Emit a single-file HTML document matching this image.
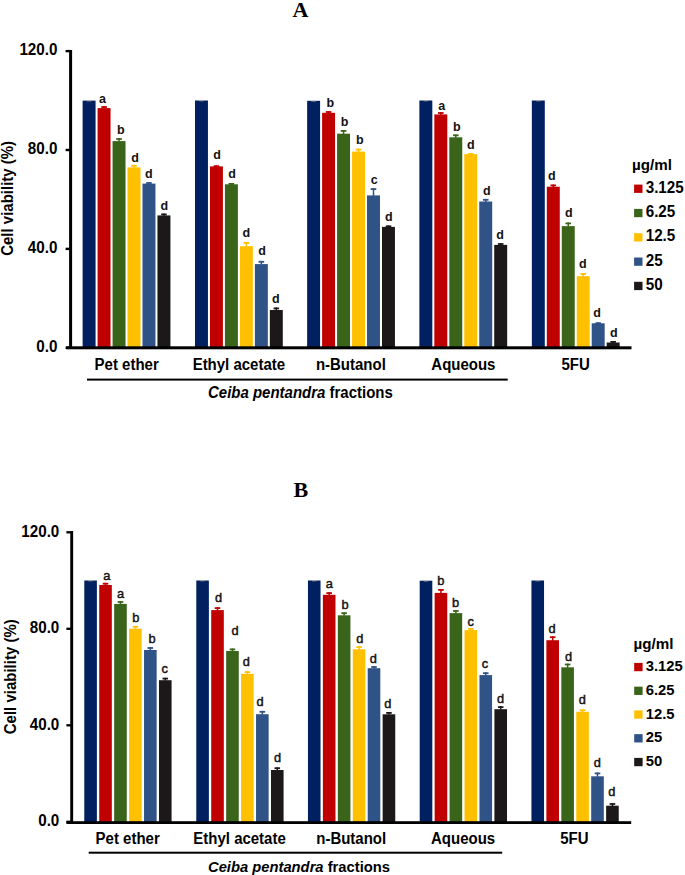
<!DOCTYPE html>
<html><head><meta charset="utf-8"><title>Cell viability charts</title>
<style>
html,body{margin:0;padding:0;background:#fff;}
body{width:685px;height:875px;overflow:hidden;font-family:"Liberation Sans", sans-serif;}
svg{display:block;}
</style></head>
<body>
<svg width="685" height="875" viewBox="0 0 685 875">
<rect width="685" height="875" fill="#fff"/>
<text x="292.5" y="16.6" font-family='"Liberation Serif", serif' font-weight="bold" font-size="22.0">A</text>
<rect x="82.62" y="100.6" width="12.95" height="247.2" fill="#002060"/>
<rect x="86.8" y="100.5" width="4.6" height="0.9" fill="#c2b598" opacity="0.75"/>
<rect x="97.59" y="108.1" width="12.95" height="239.7" fill="#C00000"/>
<rect x="103.31" y="106.1" width="1.5" height="2.5" fill="#C00000"/>
<rect x="101.27" y="106.1" width="5.6" height="1.8" fill="#C00000"/>
<rect x="112.56" y="141.1" width="12.95" height="206.7" fill="#3A641A"/>
<rect x="118.28" y="138.1" width="1.5" height="3.5" fill="#3A641A"/>
<rect x="116.23" y="138.1" width="5.6" height="1.8" fill="#3A641A"/>
<rect x="127.53" y="167.4" width="12.95" height="180.4" fill="#FFC000"/>
<rect x="133.25" y="164.9" width="1.5" height="3" fill="#FFC000"/>
<rect x="131.2" y="164.9" width="5.6" height="1.8" fill="#FFC000"/>
<rect x="142.5" y="183.6" width="12.95" height="164.2" fill="#2F5287"/>
<rect x="148.22" y="182.1" width="1.5" height="2" fill="#2F5287"/>
<rect x="146.17" y="182.1" width="5.6" height="1.8" fill="#2F5287"/>
<rect x="157.47" y="215.4" width="12.95" height="132.4" fill="#1C1819"/>
<rect x="163.2" y="213.5" width="1.5" height="2.4" fill="#1C1819"/>
<rect x="161.15" y="213.5" width="5.6" height="1.8" fill="#1C1819"/>
<rect x="194.99" y="100.5" width="12.95" height="247.3" fill="#002060"/>
<rect x="199.16" y="100.4" width="4.6" height="0.9" fill="#c2b598" opacity="0.75"/>
<rect x="209.96" y="166.4" width="12.95" height="181.4" fill="#C00000"/>
<rect x="215.69" y="165.3" width="1.5" height="1.6" fill="#C00000"/>
<rect x="213.63" y="165.3" width="5.6" height="1.8" fill="#C00000"/>
<rect x="224.93" y="184.3" width="12.95" height="163.5" fill="#3A641A"/>
<rect x="230.66" y="183" width="1.5" height="1.8" fill="#3A641A"/>
<rect x="228.6" y="183" width="5.6" height="1.8" fill="#3A641A"/>
<rect x="239.9" y="246.2" width="12.95" height="101.6" fill="#FFC000"/>
<rect x="245.62" y="242" width="1.5" height="4.7" fill="#FFC000"/>
<rect x="243.57" y="242" width="5.6" height="1.8" fill="#FFC000"/>
<rect x="254.87" y="264.1" width="12.95" height="83.7" fill="#2F5287"/>
<rect x="260.6" y="260.9" width="1.5" height="3.7" fill="#2F5287"/>
<rect x="258.55" y="260.9" width="5.6" height="1.8" fill="#2F5287"/>
<rect x="269.84" y="310" width="12.95" height="37.8" fill="#1C1819"/>
<rect x="275.57" y="307.5" width="1.5" height="3" fill="#1C1819"/>
<rect x="273.52" y="307.5" width="5.6" height="1.8" fill="#1C1819"/>
<rect x="307.14" y="100.8" width="12.95" height="247" fill="#002060"/>
<rect x="311.31" y="100.7" width="4.6" height="0.9" fill="#c2b598" opacity="0.75"/>
<rect x="322.11" y="112.8" width="12.95" height="235" fill="#C00000"/>
<rect x="327.84" y="111.1" width="1.5" height="2.2" fill="#C00000"/>
<rect x="325.79" y="111.1" width="5.6" height="1.8" fill="#C00000"/>
<rect x="337.08" y="133.7" width="12.95" height="214.1" fill="#3A641A"/>
<rect x="342.81" y="130" width="1.5" height="4.2" fill="#3A641A"/>
<rect x="340.75" y="130" width="5.6" height="1.8" fill="#3A641A"/>
<rect x="352.05" y="151.6" width="12.95" height="196.2" fill="#FFC000"/>
<rect x="357.78" y="148.7" width="1.5" height="3.4" fill="#FFC000"/>
<rect x="355.73" y="148.7" width="5.6" height="1.8" fill="#FFC000"/>
<rect x="367.02" y="195.4" width="12.95" height="152.4" fill="#2F5287"/>
<rect x="372.75" y="188.2" width="1.5" height="7.7" fill="#2F5287"/>
<rect x="370.69" y="188.2" width="5.6" height="1.8" fill="#2F5287"/>
<rect x="381.99" y="226.9" width="12.95" height="120.9" fill="#1C1819"/>
<rect x="387.72" y="225.4" width="1.5" height="2" fill="#1C1819"/>
<rect x="385.67" y="225.4" width="5.6" height="1.8" fill="#1C1819"/>
<rect x="419.37" y="100.5" width="12.95" height="247.3" fill="#002060"/>
<rect x="423.55" y="100.4" width="4.6" height="0.9" fill="#c2b598" opacity="0.75"/>
<rect x="434.34" y="114.4" width="12.95" height="233.4" fill="#C00000"/>
<rect x="440.07" y="112.1" width="1.5" height="2.8" fill="#C00000"/>
<rect x="438.02" y="112.1" width="5.6" height="1.8" fill="#C00000"/>
<rect x="449.31" y="137.3" width="12.95" height="210.5" fill="#3A641A"/>
<rect x="455.04" y="134.4" width="1.5" height="3.4" fill="#3A641A"/>
<rect x="452.99" y="134.4" width="5.6" height="1.8" fill="#3A641A"/>
<rect x="464.28" y="154.1" width="12.95" height="193.7" fill="#FFC000"/>
<rect x="470.01" y="153.1" width="1.5" height="1.5" fill="#FFC000"/>
<rect x="467.96" y="153.1" width="5.6" height="1.8" fill="#FFC000"/>
<rect x="479.25" y="201.5" width="12.95" height="146.3" fill="#2F5287"/>
<rect x="484.98" y="198.9" width="1.5" height="3.1" fill="#2F5287"/>
<rect x="482.93" y="198.9" width="5.6" height="1.8" fill="#2F5287"/>
<rect x="494.22" y="244.9" width="12.95" height="102.9" fill="#1C1819"/>
<rect x="499.95" y="243.1" width="1.5" height="2.3" fill="#1C1819"/>
<rect x="497.9" y="243.1" width="5.6" height="1.8" fill="#1C1819"/>
<rect x="531.84" y="100.5" width="12.95" height="247.3" fill="#002060"/>
<rect x="536.02" y="100.4" width="4.6" height="0.9" fill="#c2b598" opacity="0.75"/>
<rect x="546.81" y="186.7" width="12.95" height="161.1" fill="#C00000"/>
<rect x="552.54" y="184.5" width="1.5" height="2.7" fill="#C00000"/>
<rect x="550.49" y="184.5" width="5.6" height="1.8" fill="#C00000"/>
<rect x="561.78" y="226.1" width="12.95" height="121.7" fill="#3A641A"/>
<rect x="567.51" y="222.5" width="1.5" height="4.1" fill="#3A641A"/>
<rect x="565.46" y="222.5" width="5.6" height="1.8" fill="#3A641A"/>
<rect x="576.75" y="276.2" width="12.95" height="71.6" fill="#FFC000"/>
<rect x="582.48" y="273.1" width="1.5" height="3.6" fill="#FFC000"/>
<rect x="580.43" y="273.1" width="5.6" height="1.8" fill="#FFC000"/>
<rect x="591.72" y="323.3" width="12.95" height="24.5" fill="#2F5287"/>
<rect x="597.45" y="322.3" width="1.5" height="1.5" fill="#2F5287"/>
<rect x="595.4" y="322.3" width="5.6" height="1.8" fill="#2F5287"/>
<rect x="606.69" y="342.5" width="12.95" height="5.3" fill="#1C1819"/>
<rect x="612.42" y="341" width="1.5" height="2" fill="#1C1819"/>
<rect x="610.37" y="341" width="5.6" height="1.8" fill="#1C1819"/>
<text x="102.6" y="103.1" text-anchor="middle" font-family='"Liberation Sans", sans-serif' font-weight="bold" font-size="12.5" fill="#111">a</text>
<text x="120.9" y="133.8" text-anchor="middle" font-family='"Liberation Sans", sans-serif' font-weight="bold" font-size="12.5" fill="#111">b</text>
<text x="135" y="161.5" text-anchor="middle" font-family='"Liberation Sans", sans-serif' font-weight="bold" font-size="12.5" fill="#111">d</text>
<text x="148.7" y="178.4" text-anchor="middle" font-family='"Liberation Sans", sans-serif' font-weight="bold" font-size="12.5" fill="#111">d</text>
<text x="164.3" y="209.6" text-anchor="middle" font-family='"Liberation Sans", sans-serif' font-weight="bold" font-size="12.5" fill="#111">d</text>
<text x="217" y="158.5" text-anchor="middle" font-family='"Liberation Sans", sans-serif' font-weight="bold" font-size="12.5" fill="#111">d</text>
<text x="232" y="178.3" text-anchor="middle" font-family='"Liberation Sans", sans-serif' font-weight="bold" font-size="12.5" fill="#111">d</text>
<text x="246.3" y="236.6" text-anchor="middle" font-family='"Liberation Sans", sans-serif' font-weight="bold" font-size="12.5" fill="#111">d</text>
<text x="262" y="255.3" text-anchor="middle" font-family='"Liberation Sans", sans-serif' font-weight="bold" font-size="12.5" fill="#111">d</text>
<text x="275.7" y="302.5" text-anchor="middle" font-family='"Liberation Sans", sans-serif' font-weight="bold" font-size="12.5" fill="#111">d</text>
<text x="330.3" y="106.6" text-anchor="middle" font-family='"Liberation Sans", sans-serif' font-weight="bold" font-size="12.5" fill="#111">b</text>
<text x="344.5" y="125.6" text-anchor="middle" font-family='"Liberation Sans", sans-serif' font-weight="bold" font-size="12.5" fill="#111">b</text>
<text x="359.7" y="143.8" text-anchor="middle" font-family='"Liberation Sans", sans-serif' font-weight="bold" font-size="12.5" fill="#111">b</text>
<text x="374.3" y="184.2" text-anchor="middle" font-family='"Liberation Sans", sans-serif' font-weight="bold" font-size="12.5" fill="#111">c</text>
<text x="388.8" y="220.5" text-anchor="middle" font-family='"Liberation Sans", sans-serif' font-weight="bold" font-size="12.5" fill="#111">d</text>
<text x="441.7" y="109.9" text-anchor="middle" font-family='"Liberation Sans", sans-serif' font-weight="bold" font-size="12.5" fill="#111">a</text>
<text x="456.7" y="131.4" text-anchor="middle" font-family='"Liberation Sans", sans-serif' font-weight="bold" font-size="12.5" fill="#111">b</text>
<text x="470.7" y="149.2" text-anchor="middle" font-family='"Liberation Sans", sans-serif' font-weight="bold" font-size="12.5" fill="#111">d</text>
<text x="486.8" y="194.5" text-anchor="middle" font-family='"Liberation Sans", sans-serif' font-weight="bold" font-size="12.5" fill="#111">d</text>
<text x="500" y="239.3" text-anchor="middle" font-family='"Liberation Sans", sans-serif' font-weight="bold" font-size="12.5" fill="#111">d</text>
<text x="551.8" y="180.3" text-anchor="middle" font-family='"Liberation Sans", sans-serif' font-weight="bold" font-size="12.5" fill="#111">d</text>
<text x="568.8" y="216.5" text-anchor="middle" font-family='"Liberation Sans", sans-serif' font-weight="bold" font-size="12.5" fill="#111">d</text>
<text x="582.9" y="267.5" text-anchor="middle" font-family='"Liberation Sans", sans-serif' font-weight="bold" font-size="12.5" fill="#111">d</text>
<text x="597" y="317.2" text-anchor="middle" font-family='"Liberation Sans", sans-serif' font-weight="bold" font-size="12.5" fill="#111">d</text>
<text x="613.8" y="336.7" text-anchor="middle" font-family='"Liberation Sans", sans-serif' font-weight="bold" font-size="12.5" fill="#111">d</text>
<rect x="69.1" y="50" width="3" height="297.8" fill="#000"/>
<rect x="65.6" y="49.9" width="5" height="2.4" fill="#000"/>
<rect x="65.6" y="148.8" width="5" height="2.4" fill="#000"/>
<rect x="65.6" y="247.7" width="5" height="2.4" fill="#000"/>
<rect x="65.6" y="346.6" width="5" height="2.4" fill="#000"/>
<rect x="66" y="346.3" width="565.5" height="3" fill="#000"/>
<text transform="translate(57.4,55.12) scale(1,1.07)" text-anchor="end" font-family='"Liberation Sans", sans-serif' font-weight="bold" font-size="15.2">120.0</text>
<text transform="translate(57.4,154.02) scale(1,1.07)" text-anchor="end" font-family='"Liberation Sans", sans-serif' font-weight="bold" font-size="15.2">80.0</text>
<text transform="translate(57.4,252.92) scale(1,1.07)" text-anchor="end" font-family='"Liberation Sans", sans-serif' font-weight="bold" font-size="15.2">40.0</text>
<text transform="translate(57.4,351.82) scale(1,1.07)" text-anchor="end" font-family='"Liberation Sans", sans-serif' font-weight="bold" font-size="15.2">0.0</text>
<text transform="translate(12.5,255.8) rotate(-90) scale(1,1.06)" x="0" y="0" font-family='"Liberation Sans", sans-serif' font-weight="bold" font-size="15.0">Cell viability (%)</text>
<text transform="translate(126.65,369.6) scale(1,1.05)" text-anchor="middle" font-family='"Liberation Sans", sans-serif' font-weight="bold" font-size="15.0">Pet ether</text>
<text transform="translate(238.85,369.6) scale(1,1.05)" text-anchor="middle" font-family='"Liberation Sans", sans-serif' font-weight="bold" font-size="15.0">Ethyl acetate</text>
<text transform="translate(350.85,369.6) scale(1,1.05)" text-anchor="middle" font-family='"Liberation Sans", sans-serif' font-weight="bold" font-size="15.0">n-Butanol</text>
<text transform="translate(463.4,369.6) scale(1,1.05)" text-anchor="middle" font-family='"Liberation Sans", sans-serif' font-weight="bold" font-size="15.0">Aqueous</text>
<text transform="translate(575.6,369.6) scale(1,1.05)" text-anchor="middle" font-family='"Liberation Sans", sans-serif' font-weight="bold" font-size="15.0">5FU</text>
<rect x="87" y="378.6" width="420.7" height="2" fill="#000"/>
<text transform="translate(208,398.1) scale(1,1.05)" font-family='"Liberation Sans", sans-serif' font-weight="bold" font-size="15.0"><tspan font-style="italic">Ceiba pentandra</tspan> fractions</text>
<text x="631.9" y="170.2" font-family='"Liberation Sans", sans-serif' font-weight="bold" font-size="15.2">µg/ml</text>
<rect x="634.1" y="184.6" width="8.4" height="8.3" fill="#C00000"/>
<text transform="translate(645.7,192.8) scale(1,1.07)" font-family='"Liberation Sans", sans-serif' font-weight="bold" font-size="15.2">3.125</text>
<rect x="634.1" y="208.9" width="8.4" height="8.3" fill="#3A641A"/>
<text transform="translate(645.7,217.1) scale(1,1.07)" font-family='"Liberation Sans", sans-serif' font-weight="bold" font-size="15.2">6.25</text>
<rect x="634.1" y="233.2" width="8.4" height="8.3" fill="#FFC000"/>
<text transform="translate(645.7,241.4) scale(1,1.07)" font-family='"Liberation Sans", sans-serif' font-weight="bold" font-size="15.2">12.5</text>
<rect x="634.1" y="257.5" width="8.4" height="8.3" fill="#2F5287"/>
<text transform="translate(645.7,265.7) scale(1,1.07)" font-family='"Liberation Sans", sans-serif' font-weight="bold" font-size="15.2">25</text>
<rect x="634.1" y="281.8" width="8.4" height="8.3" fill="#1C1819"/>
<text transform="translate(645.7,290) scale(1,1.07)" font-family='"Liberation Sans", sans-serif' font-weight="bold" font-size="15.2">50</text>
<text x="293.5" y="496.6" font-family='"Liberation Serif", serif' font-weight="bold" font-size="22.0">B</text>
<rect x="84.28" y="580.5" width="12.6" height="242.1" fill="#002060"/>
<rect x="88.28" y="580.4" width="4.6" height="0.9" fill="#c2b598" opacity="0.75"/>
<rect x="99.22" y="585" width="12.6" height="237.6" fill="#C00000"/>
<rect x="104.77" y="582.8" width="1.5" height="2.7" fill="#C00000"/>
<rect x="102.72" y="582.8" width="5.6" height="1.8" fill="#C00000"/>
<rect x="114.16" y="603.9" width="12.6" height="218.7" fill="#3A641A"/>
<rect x="119.71" y="601.1" width="1.5" height="3.3" fill="#3A641A"/>
<rect x="117.66" y="601.1" width="5.6" height="1.8" fill="#3A641A"/>
<rect x="129.1" y="628.7" width="12.6" height="193.9" fill="#FFC000"/>
<rect x="134.65" y="625.9" width="1.5" height="3.3" fill="#FFC000"/>
<rect x="132.6" y="625.9" width="5.6" height="1.8" fill="#FFC000"/>
<rect x="144.04" y="650" width="12.6" height="172.6" fill="#2F5287"/>
<rect x="149.59" y="647.1" width="1.5" height="3.4" fill="#2F5287"/>
<rect x="147.54" y="647.1" width="5.6" height="1.8" fill="#2F5287"/>
<rect x="158.98" y="680.2" width="12.6" height="142.4" fill="#1C1819"/>
<rect x="164.53" y="677.7" width="1.5" height="3" fill="#1C1819"/>
<rect x="162.48" y="677.7" width="5.6" height="1.8" fill="#1C1819"/>
<rect x="196.28" y="580.5" width="12.6" height="242.1" fill="#002060"/>
<rect x="200.28" y="580.4" width="4.6" height="0.9" fill="#c2b598" opacity="0.75"/>
<rect x="211.22" y="610.1" width="12.6" height="212.5" fill="#C00000"/>
<rect x="216.77" y="607.2" width="1.5" height="3.4" fill="#C00000"/>
<rect x="214.72" y="607.2" width="5.6" height="1.8" fill="#C00000"/>
<rect x="226.16" y="651" width="12.6" height="171.6" fill="#3A641A"/>
<rect x="231.71" y="648.5" width="1.5" height="3" fill="#3A641A"/>
<rect x="229.66" y="648.5" width="5.6" height="1.8" fill="#3A641A"/>
<rect x="241.1" y="673.8" width="12.6" height="148.8" fill="#FFC000"/>
<rect x="246.65" y="671.2" width="1.5" height="3.1" fill="#FFC000"/>
<rect x="244.6" y="671.2" width="5.6" height="1.8" fill="#FFC000"/>
<rect x="256.04" y="714.2" width="12.6" height="108.4" fill="#2F5287"/>
<rect x="261.59" y="710.9" width="1.5" height="3.8" fill="#2F5287"/>
<rect x="259.54" y="710.9" width="5.6" height="1.8" fill="#2F5287"/>
<rect x="270.98" y="770" width="12.6" height="52.6" fill="#1C1819"/>
<rect x="276.53" y="767.3" width="1.5" height="3.2" fill="#1C1819"/>
<rect x="274.48" y="767.3" width="5.6" height="1.8" fill="#1C1819"/>
<rect x="307.94" y="580.5" width="12.6" height="242.1" fill="#002060"/>
<rect x="311.94" y="580.4" width="4.6" height="0.9" fill="#c2b598" opacity="0.75"/>
<rect x="322.88" y="594.8" width="12.6" height="227.8" fill="#C00000"/>
<rect x="328.43" y="592.2" width="1.5" height="3.1" fill="#C00000"/>
<rect x="326.38" y="592.2" width="5.6" height="1.8" fill="#C00000"/>
<rect x="337.82" y="615.3" width="12.6" height="207.3" fill="#3A641A"/>
<rect x="343.37" y="612.3" width="1.5" height="3.5" fill="#3A641A"/>
<rect x="341.32" y="612.3" width="5.6" height="1.8" fill="#3A641A"/>
<rect x="352.76" y="649.3" width="12.6" height="173.3" fill="#FFC000"/>
<rect x="358.31" y="646.2" width="1.5" height="3.6" fill="#FFC000"/>
<rect x="356.26" y="646.2" width="5.6" height="1.8" fill="#FFC000"/>
<rect x="367.7" y="668.2" width="12.6" height="154.4" fill="#2F5287"/>
<rect x="373.25" y="666.1" width="1.5" height="2.6" fill="#2F5287"/>
<rect x="371.2" y="666.1" width="5.6" height="1.8" fill="#2F5287"/>
<rect x="382.64" y="714.3" width="12.6" height="108.3" fill="#1C1819"/>
<rect x="388.19" y="712" width="1.5" height="2.8" fill="#1C1819"/>
<rect x="386.14" y="712" width="5.6" height="1.8" fill="#1C1819"/>
<rect x="419.71" y="580.7" width="12.6" height="241.9" fill="#002060"/>
<rect x="423.71" y="580.6" width="4.6" height="0.9" fill="#c2b598" opacity="0.75"/>
<rect x="434.65" y="592.9" width="12.6" height="229.7" fill="#C00000"/>
<rect x="440.2" y="589" width="1.5" height="4.4" fill="#C00000"/>
<rect x="438.15" y="589" width="5.6" height="1.8" fill="#C00000"/>
<rect x="449.59" y="613.1" width="12.6" height="209.5" fill="#3A641A"/>
<rect x="455.14" y="610.1" width="1.5" height="3.5" fill="#3A641A"/>
<rect x="453.09" y="610.1" width="5.6" height="1.8" fill="#3A641A"/>
<rect x="464.53" y="630.1" width="12.6" height="192.5" fill="#FFC000"/>
<rect x="470.08" y="628" width="1.5" height="2.6" fill="#FFC000"/>
<rect x="468.03" y="628" width="5.6" height="1.8" fill="#FFC000"/>
<rect x="479.47" y="675.1" width="12.6" height="147.5" fill="#2F5287"/>
<rect x="485.02" y="672.3" width="1.5" height="3.3" fill="#2F5287"/>
<rect x="482.97" y="672.3" width="5.6" height="1.8" fill="#2F5287"/>
<rect x="494.41" y="709.2" width="12.6" height="113.4" fill="#1C1819"/>
<rect x="499.96" y="706.2" width="1.5" height="3.5" fill="#1C1819"/>
<rect x="497.91" y="706.2" width="5.6" height="1.8" fill="#1C1819"/>
<rect x="531.44" y="580.5" width="12.6" height="242.1" fill="#002060"/>
<rect x="535.44" y="580.4" width="4.6" height="0.9" fill="#c2b598" opacity="0.75"/>
<rect x="546.38" y="640.2" width="12.6" height="182.4" fill="#C00000"/>
<rect x="551.93" y="636.3" width="1.5" height="4.4" fill="#C00000"/>
<rect x="549.88" y="636.3" width="5.6" height="1.8" fill="#C00000"/>
<rect x="561.32" y="667.3" width="12.6" height="155.3" fill="#3A641A"/>
<rect x="566.87" y="663.6" width="1.5" height="4.2" fill="#3A641A"/>
<rect x="564.82" y="663.6" width="5.6" height="1.8" fill="#3A641A"/>
<rect x="576.26" y="711.8" width="12.6" height="110.8" fill="#FFC000"/>
<rect x="581.81" y="709.3" width="1.5" height="3" fill="#FFC000"/>
<rect x="579.76" y="709.3" width="5.6" height="1.8" fill="#FFC000"/>
<rect x="591.2" y="776.3" width="12.6" height="46.3" fill="#2F5287"/>
<rect x="596.75" y="772.5" width="1.5" height="4.3" fill="#2F5287"/>
<rect x="594.7" y="772.5" width="5.6" height="1.8" fill="#2F5287"/>
<rect x="606.14" y="805.7" width="12.6" height="16.9" fill="#1C1819"/>
<rect x="611.69" y="803.1" width="1.5" height="3.1" fill="#1C1819"/>
<rect x="609.64" y="803.1" width="5.6" height="1.8" fill="#1C1819"/>
<text x="106.7" y="579.8" text-anchor="middle" font-family='"Liberation Sans", sans-serif' font-weight="normal" font-size="12.8" fill="#111" stroke="#111" stroke-width="0.45">a</text>
<text x="120.5" y="598.4" text-anchor="middle" font-family='"Liberation Sans", sans-serif' font-weight="normal" font-size="12.8" fill="#111" stroke="#111" stroke-width="0.45">a</text>
<text x="135.7" y="622.2" text-anchor="middle" font-family='"Liberation Sans", sans-serif' font-weight="normal" font-size="12.8" fill="#111" stroke="#111" stroke-width="0.45">b</text>
<text x="152" y="643.3" text-anchor="middle" font-family='"Liberation Sans", sans-serif' font-weight="normal" font-size="12.8" fill="#111" stroke="#111" stroke-width="0.45">b</text>
<text x="164.6" y="672.7" text-anchor="middle" font-family='"Liberation Sans", sans-serif' font-weight="normal" font-size="12.8" fill="#111" stroke="#111" stroke-width="0.45">c</text>
<text x="218.5" y="601.7" text-anchor="middle" font-family='"Liberation Sans", sans-serif' font-weight="normal" font-size="12.8" fill="#111" stroke="#111" stroke-width="0.45">d</text>
<text x="235" y="634.9" text-anchor="middle" font-family='"Liberation Sans", sans-serif' font-weight="normal" font-size="12.8" fill="#111" stroke="#111" stroke-width="0.45">d</text>
<text x="246.4" y="666.3" text-anchor="middle" font-family='"Liberation Sans", sans-serif' font-weight="normal" font-size="12.8" fill="#111" stroke="#111" stroke-width="0.45">d</text>
<text x="260" y="705.9" text-anchor="middle" font-family='"Liberation Sans", sans-serif' font-weight="normal" font-size="12.8" fill="#111" stroke="#111" stroke-width="0.45">d</text>
<text x="277.6" y="761.6" text-anchor="middle" font-family='"Liberation Sans", sans-serif' font-weight="normal" font-size="12.8" fill="#111" stroke="#111" stroke-width="0.45">d</text>
<text x="329.4" y="587.9" text-anchor="middle" font-family='"Liberation Sans", sans-serif' font-weight="normal" font-size="12.8" fill="#111" stroke="#111" stroke-width="0.45">a</text>
<text x="345" y="609" text-anchor="middle" font-family='"Liberation Sans", sans-serif' font-weight="normal" font-size="12.8" fill="#111" stroke="#111" stroke-width="0.45">b</text>
<text x="359.7" y="642.5" text-anchor="middle" font-family='"Liberation Sans", sans-serif' font-weight="normal" font-size="12.8" fill="#111" stroke="#111" stroke-width="0.45">d</text>
<text x="373.2" y="663.3" text-anchor="middle" font-family='"Liberation Sans", sans-serif' font-weight="normal" font-size="12.8" fill="#111" stroke="#111" stroke-width="0.45">d</text>
<text x="387.8" y="707.6" text-anchor="middle" font-family='"Liberation Sans", sans-serif' font-weight="normal" font-size="12.8" fill="#111" stroke="#111" stroke-width="0.45">d</text>
<text x="440.8" y="584.9" text-anchor="middle" font-family='"Liberation Sans", sans-serif' font-weight="normal" font-size="12.8" fill="#111" stroke="#111" stroke-width="0.45">b</text>
<text x="455.5" y="607.1" text-anchor="middle" font-family='"Liberation Sans", sans-serif' font-weight="normal" font-size="12.8" fill="#111" stroke="#111" stroke-width="0.45">b</text>
<text x="470.7" y="625.8" text-anchor="middle" font-family='"Liberation Sans", sans-serif' font-weight="normal" font-size="12.8" fill="#111" stroke="#111" stroke-width="0.45">c</text>
<text x="484.9" y="668.2" text-anchor="middle" font-family='"Liberation Sans", sans-serif' font-weight="normal" font-size="12.8" fill="#111" stroke="#111" stroke-width="0.45">c</text>
<text x="500.5" y="702.8" text-anchor="middle" font-family='"Liberation Sans", sans-serif' font-weight="normal" font-size="12.8" fill="#111" stroke="#111" stroke-width="0.45">d</text>
<text x="552" y="633.4" text-anchor="middle" font-family='"Liberation Sans", sans-serif' font-weight="normal" font-size="12.8" fill="#111" stroke="#111" stroke-width="0.45">d</text>
<text x="568.5" y="661.3" text-anchor="middle" font-family='"Liberation Sans", sans-serif' font-weight="normal" font-size="12.8" fill="#111" stroke="#111" stroke-width="0.45">d</text>
<text x="582.3" y="703.6" text-anchor="middle" font-family='"Liberation Sans", sans-serif' font-weight="normal" font-size="12.8" fill="#111" stroke="#111" stroke-width="0.45">d</text>
<text x="597.2" y="766.7" text-anchor="middle" font-family='"Liberation Sans", sans-serif' font-weight="normal" font-size="12.8" fill="#111" stroke="#111" stroke-width="0.45">d</text>
<text x="611.9" y="796.4" text-anchor="middle" font-family='"Liberation Sans", sans-serif' font-weight="normal" font-size="12.8" fill="#111" stroke="#111" stroke-width="0.45">d</text>
<rect x="70.25" y="531" width="2.9" height="291.6" fill="#000"/>
<rect x="66.4" y="531.15" width="5.3" height="2.3" fill="#000"/>
<rect x="66.4" y="627.65" width="5.3" height="2.3" fill="#000"/>
<rect x="66.4" y="724.15" width="5.3" height="2.3" fill="#000"/>
<rect x="66.4" y="820.65" width="5.3" height="2.3" fill="#000"/>
<rect x="66.4" y="821.2" width="564.8" height="2.8" fill="#000"/>
<text transform="translate(59.3,536.62) scale(1,1.07)" text-anchor="end" font-family='"Liberation Sans", sans-serif' font-weight="bold" font-size="15.2">120.0</text>
<text transform="translate(59.3,633.12) scale(1,1.07)" text-anchor="end" font-family='"Liberation Sans", sans-serif' font-weight="bold" font-size="15.2">80.0</text>
<text transform="translate(59.3,729.62) scale(1,1.07)" text-anchor="end" font-family='"Liberation Sans", sans-serif' font-weight="bold" font-size="15.2">40.0</text>
<text transform="translate(59.3,826.12) scale(1,1.07)" text-anchor="end" font-family='"Liberation Sans", sans-serif' font-weight="bold" font-size="15.2">0.0</text>
<text transform="translate(15.8,734.2) rotate(-90) scale(1,1.06)" x="0" y="0" font-family='"Liberation Sans", sans-serif' font-weight="bold" font-size="15.0">Cell viability (%)</text>
<text transform="translate(127.65,844.4) scale(1,1.05)" text-anchor="middle" font-family='"Liberation Sans", sans-serif' font-weight="bold" font-size="15.0">Pet ether</text>
<text transform="translate(239.55,844.4) scale(1,1.05)" text-anchor="middle" font-family='"Liberation Sans", sans-serif' font-weight="bold" font-size="15.0">Ethyl acetate</text>
<text transform="translate(351.2,844.4) scale(1,1.05)" text-anchor="middle" font-family='"Liberation Sans", sans-serif' font-weight="bold" font-size="15.0">n-Butanol</text>
<text transform="translate(463.1,844.4) scale(1,1.05)" text-anchor="middle" font-family='"Liberation Sans", sans-serif' font-weight="bold" font-size="15.0">Aqueous</text>
<text transform="translate(574.4,844.4) scale(1,1.05)" text-anchor="middle" font-family='"Liberation Sans", sans-serif' font-weight="bold" font-size="15.0">5FU</text>
<rect x="88.7" y="851.7" width="413.5" height="2" fill="#000"/>
<text transform="translate(208,872.3) scale(1,1.05)" font-family='"Liberation Sans", sans-serif' font-weight="bold" font-size="14.76"><tspan font-style="italic">Ceiba pentandra</tspan> fractions</text>
<text x="633.4" y="648.9" font-family='"Liberation Sans", sans-serif' font-weight="bold" font-size="15.2">µg/ml</text>
<rect x="634.2" y="662.9" width="8.4" height="8.3" fill="#C00000"/>
<text transform="translate(645.7,671.1) scale(1,1.05)" font-family='"Liberation Sans", sans-serif' font-weight="bold" font-size="14.8">3.125</text>
<rect x="634.2" y="686.65" width="8.4" height="8.3" fill="#3A641A"/>
<text transform="translate(645.7,694.85) scale(1,1.05)" font-family='"Liberation Sans", sans-serif' font-weight="bold" font-size="14.8">6.25</text>
<rect x="634.2" y="710.4" width="8.4" height="8.3" fill="#FFC000"/>
<text transform="translate(645.7,718.6) scale(1,1.05)" font-family='"Liberation Sans", sans-serif' font-weight="bold" font-size="14.8">12.5</text>
<rect x="634.2" y="734.15" width="8.4" height="8.3" fill="#2F5287"/>
<text transform="translate(645.7,742.35) scale(1,1.05)" font-family='"Liberation Sans", sans-serif' font-weight="bold" font-size="14.8">25</text>
<rect x="634.2" y="757.9" width="8.4" height="8.3" fill="#1C1819"/>
<text transform="translate(645.7,766.1) scale(1,1.05)" font-family='"Liberation Sans", sans-serif' font-weight="bold" font-size="14.8">50</text>
</svg>
</body></html>
